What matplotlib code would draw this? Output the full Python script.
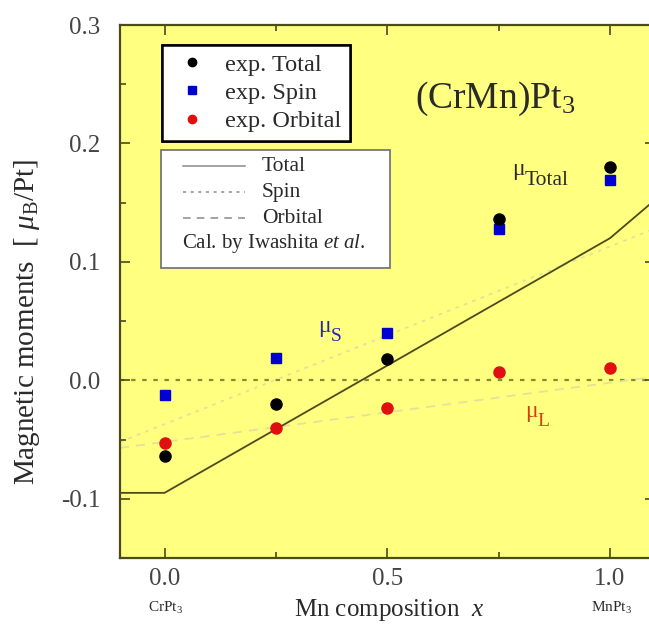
import numpy as np
import matplotlib
matplotlib.use("Agg")
import matplotlib.pyplot as plt
from matplotlib.patches import Rectangle

plt.rcParams['font.family'] = ['Liberation Serif', 'DejaVu Serif']
plt.rcParams['mathtext.fontset'] = 'custom'
plt.rcParams['mathtext.rm'] = 'Liberation Serif'
plt.rcParams['mathtext.it'] = 'Liberation Serif:italic'

# experimental data
x_exp = [0.0, 0.25, 0.5, 0.75, 1.0]
total_exp = [-0.064, -0.020, 0.018, 0.136, 0.180]
spin_exp = [-0.012, 0.019, 0.040, 0.128, 0.169]
orb_exp = [-0.053, -0.040, -0.023, 0.007, 0.010]

# calculation (Iwashita et al.)
x_cal_total = [-0.1, 0.0, 1.0, 1.1]
total_cal = [-0.095, -0.095, 0.120, 0.152]
x_cal = [-0.1, 1.1]
spin_cal = [-0.052, 0.128]
orb_cal = [-0.057, 0.003]

bg = '#ffff80'
ink = '#4a4a1c'
txt = '#2a2a2a'

fig = plt.figure(figsize=(6.49, 6.38), dpi=100)
ax = fig.add_axes([0.1849, 0.1254, 0.8236, 0.8354])
ax.set_facecolor(bg)


def axp(px, py):
    # pixel position in the picture -> axes fraction
    return (px - 120) / 534.5, (558 - py) / 533


ax.axhline(0, color='#8a8a30', ls=(0, (2, 3)), lw=1.6, zorder=1)
ax.plot(x_cal_total, total_cal, color=ink, lw=1.3, zorder=2)
ax.plot(x_cal, spin_cal, color='#e2e29c', ls=(0, (2, 3)), lw=1.3, zorder=1)
ax.plot(x_cal, orb_cal, color='#e2e29c', ls=(0, (5, 4)), lw=1.3, zorder=1)

p_tot, = ax.plot(x_exp, total_exp, 'o', color='black', ms=8, zorder=4)
p_spin, = ax.plot(x_exp, spin_exp, 's', color='#0000d0', ms=7.5, zorder=3)
p_orb, = ax.plot(x_exp, orb_exp, 'o', color='#e01010', ms=8, zorder=3)

ax.set_xlim(-0.1, 1.1)
ax.set_ylim(-0.15, 0.3)
ax.set_xticks([0.0, 0.5, 1.0])
ax.set_xticks([0.25, 0.75], minor=True)
ax.set_yticks([-0.1, 0.0, 0.1, 0.2, 0.3])
ax.set_yticks([-0.15, -0.05, 0.05, 0.15, 0.25], minor=True)
ax.set_xticklabels(['0.0', '0.5', '1.0'])
ax.set_yticklabels(['-0.1', '0.0', '0.1', '0.2', '0.3'])
ax.tick_params(which='both', direction='in', top=True, right=True, color=ink,
               labelsize=18, labelcolor='#444444', width=1.2)
ax.tick_params(which='major', length=7)
ax.tick_params(axis='x', which='major', pad=7)
ax.tick_params(axis='y', which='major', pad=14)
ax.tick_params(which='minor', length=4)
for s in ax.spines.values():
    s.set_color(ink)
    s.set_linewidth(1.6)

fig.text(27 / 649, 1 - 322 / 638, r'Magnetic moments  [ $\mu_{\rm B}$/Pt]', rotation=90,
         ha='center', va='center', fontsize=21, color=txt)
fig.text(165 / 649, 1 - 608 / 638, r'CrPt$_3$', ha='center', va='center', fontsize=11, color=txt)
fig.text(611 / 649, 1 - 608 / 638, r'MnPt$_3$', ha='center', va='center', fontsize=11, color=txt)
fig.text(389 / 649, 1 - 610 / 638, r'Mn composition  $x$', ha='center', va='center',
         fontsize=18, color=txt)

ax.text(0.742, 0.238, r'(CrMn)Pt$_3$', ha='center', va='center', fontsize=27, color=txt)
ax.annotate('μ', (0.78, 0.169), ha='left', va='bottom', fontsize=17, color=txt)
ax.annotate('Total', (0.808, 0.161), ha='left', va='bottom', fontsize=15.5, color=txt)
ax.annotate('μ', (0.345, 0.037), ha='left', va='bottom', fontsize=17, color='#2828a8')
ax.annotate('S', (0.373, 0.030), ha='left', va='bottom', fontsize=14, color='#2828a8')
ax.annotate('μ', (0.81, -0.035), ha='left', va='bottom', fontsize=17, color='#d04010')
ax.annotate('L', (0.838, -0.042), ha='left', va='bottom', fontsize=14, color='#d04010')

leg1 = ax.legend([p_tot, p_spin, p_orb], ['exp. Total', 'exp. Spin', 'exp. Orbital'],
                 loc='upper left', bbox_to_anchor=axp(162, 45),
                 fontsize=17.5, fancybox=False, framealpha=1,
                 edgecolor='black', borderaxespad=0, handlelength=1.75,
                 handletextpad=0.5, labelspacing=0.26, markerscale=0.75,
                 borderpad=0.35)
leg1.get_frame().set_linewidth(1.8)
for t in leg1.get_texts():
    t.set_color(txt)
ax.add_artist(leg1)

# calculation key box
x0, y0 = axp(161, 268)
x1, y1 = axp(390, 150)
ax.add_patch(Rectangle((x0, y0), x1 - x0, y1 - y0, transform=ax.transAxes,
                       facecolor='white', edgecolor='#777777', lw=1.3, zorder=5))
keys = [('Total', '-'), ('Spin', (0, (2, 3))), ('Orbital', (0, (5, 4)))]
for i, (name, style) in enumerate(keys):
    py = 166 + 26 * i
    (hx0, hy), (hx1, _) = axp(183, py), axp(245, py)
    ax.plot([hx0, hx1], [hy, hy], transform=ax.transAxes, color='#8a8a8a',
            ls=style, lw=1.1, zorder=6)
    tx, ty = axp(262, py)
    ax.text(tx, ty, name, transform=ax.transAxes, fontsize=15.5, va='center',
            color=txt, zorder=6)
tx, ty = axp(182, 243)
ax.text(tx, ty, r'Cal. by Iwashita $\it{et\ al.}$', transform=ax.transAxes,
        fontsize=15, va='center', color=txt, zorder=6)

fig.savefig('out.png', dpi=100, facecolor='white')
